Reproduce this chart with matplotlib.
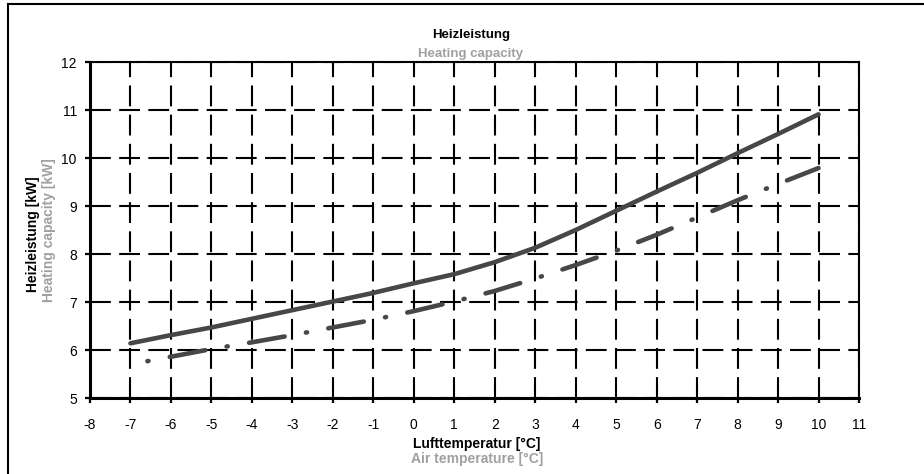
import matplotlib
matplotlib.use('Agg')
import matplotlib.pyplot as plt
from matplotlib.lines import Line2D

# ------------------------------------------------------------
# Data
# ------------------------------------------------------------
air_temp = [-7, -6, -5, -4, -3, -2, -1, 0, 1, 2, 3, 4, 5, 6, 7, 8, 9, 10]
heat_solid = [6.14, 6.31, 6.47, 6.65, 6.83, 7.01, 7.19, 7.39, 7.58, 7.83,
              8.13, 8.50, 8.90, 9.30, 9.69, 10.10, 10.50, 10.91]
heat_dashdot = [5.70, 5.86, 6.02, 6.16, 6.31, 6.47, 6.63, 6.81, 7.01, 7.23,
                7.49, 7.77, 8.07, 8.40, 8.76, 9.12, 9.46, 9.79]

x_ticks = list(range(-8, 12))
y_ticks = list(range(5, 13))

plt.rcParams['font.family'] = ['Liberation Sans', 'DejaVu Sans']
plt.rcParams['lines.scale_dashes'] = False
plt.rcParams['axes.unicode_minus'] = False

W, H = 924, 474
fig = plt.figure(figsize=(W / 100, H / 100), dpi=100)

# axes box in pixels: left 90, right 859, top 62, bottom 398
ax = fig.add_axes([90 / W, (H - 398) / H, (859 - 90) / W, (398 - 62) / H])
ax.set_xlim(-8, 11)
ax.set_ylim(5, 12)
ax.set_xticks(x_ticks)
ax.set_yticks(y_ticks)

ax.grid(True, color='black', lw=1.5, linestyle=(0, (15, 6)), zorder=1)
ax.set_axisbelow(True)

line_col = '#474747'
ax.plot(air_temp, heat_solid, color=line_col, lw=3.3, solid_capstyle='round',
        zorder=3)
ax.plot(air_temp, heat_dashdot, color=line_col, lw=3.3,
        linestyle=(29.2, (26, 15.6, 0.8, 15.6)), dash_capstyle='round',
        zorder=3)

for s in ['left', 'bottom']:
    ax.spines[s].set_linewidth(2.2)
for s in ['top', 'right']:
    ax.spines[s].set_linewidth(1.5)
for s in ax.spines.values():
    s.set_color('black')

ax.tick_params(axis='both', direction='out', length=3.5, width=1.6,
               labelsize=10, colors='black')
ax.tick_params(axis='x', pad=11)
ax.tick_params(axis='y', pad=6)

gray = '#a0a0a0'
# titles and axis labels (two languages)
fig.text(471 / W, 1 - 38 / H, 'Heizleistung', ha='center', va='baseline',
         fontsize=9.5, fontweight='bold', color='black')
fig.text(471 / W, 1 - 57 / H, 'Heating capacity', ha='center', va='baseline',
         fontsize=9.5, fontweight='bold', color=gray)
fig.text(477 / W, 1 - 448 / H, 'Lufttemperatur [°C]', ha='center',
         va='baseline', fontsize=10, fontweight='bold', color='black')
fig.text(477 / W, 1 - 463 / H, 'Air temperature [°C]', ha='center',
         va='baseline', fontsize=10, fontweight='bold', color=gray)
fig.text(33 / W, 1 - 234 / H, 'Heizleistung [kW]', ha='center', va='center',
         rotation=90, fontsize=10, fontweight='bold', color='black')
fig.text(49 / W, 1 - 230 / H, 'Heating capacity [kW]', ha='center',
         va='center', rotation=90, fontsize=10, fontweight='bold', color=gray)

# outer frame (left and top edges visible)
fig.add_artist(Line2D([8 / W, 8 / W], [-0.1, 1 - 4 / H], color='black',
                      lw=1.5, transform=fig.transFigure))
fig.add_artist(Line2D([8 / W, 1.1], [1 - 4 / H, 1 - 4 / H], color='black',
                      lw=1.5, transform=fig.transFigure))

fig.savefig('out.png', dpi=100)
